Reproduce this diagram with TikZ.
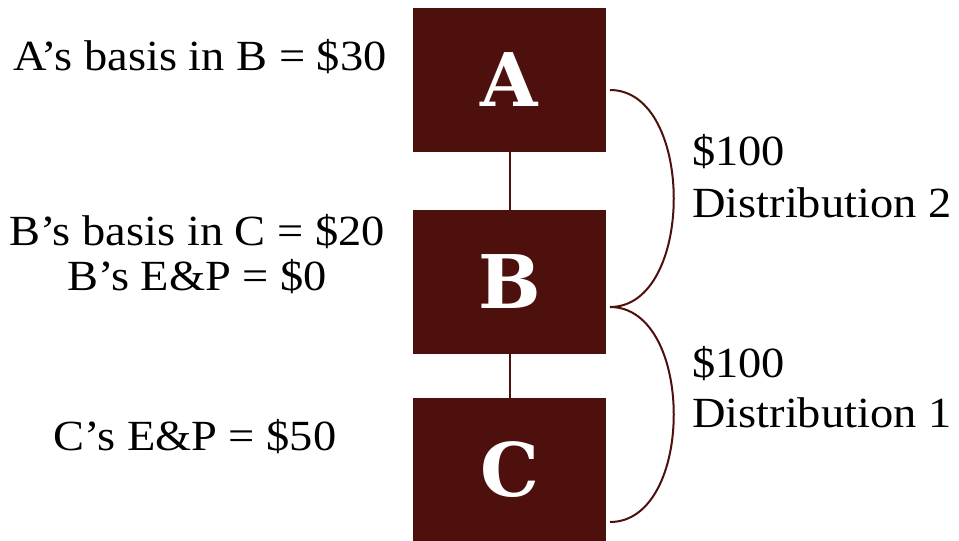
\documentclass[tikz,border=0pt]{standalone}
\usepackage{fontspec}
\setmainfont{Liberation Serif}[FakeStretch=1.08]
\newfontfamily\boxfont{DejaVu Serif Bold}
\definecolor{maroon}{HTML}{4D100D}
\begin{document}
\begin{tikzpicture}[x=1pt,y=-1pt,
  entity/.style={fill=maroon, draw=none, minimum width=193pt, minimum height=144pt,
    inner sep=0pt, text=white, font=\boxfont\fontsize{74}{76}\selectfont},
  lbl/.style={anchor=base, inner sep=0pt, font=\fontsize{43}{46}\selectfont},
  rlbl/.style={anchor=base west, inner sep=0pt, font=\fontsize{43}{46}\selectfont},
  link/.style={draw=maroon, line width=2pt}]
\useasboundingbox (0,0) rectangle (959,541);
\node[entity] (A) at (509.5,80) {A};
\node[entity] (B) at (509.5,282) {B};
\node[entity] (C) at (509.5,470) {C};
\draw[link] (A.south) -- (B.north);
\draw[link] (B.south) -- (C.north);
\coordinate (a1) at (610,90);
\coordinate (b1) at (610,307);
\coordinate (c1) at (610,522);
\draw[link] (a1) .. controls (695,90) and (695,307) .. (b1);
\draw[link] (b1) .. controls (695,307) and (695,522) .. (c1);
\node[lbl] (t1) at (200,70) {A’s basis in B = \$30};
\node[lbl] (t2) at (197,245) {B’s basis in C = \$20};
\node[lbl] (t3) at (197,290) {B’s E\&P = \$0};
\node[lbl] (t4) at (195,450) {C’s E\&P = \$50};
\node[rlbl] (d2a) at (692,165) {\$100};
\node[rlbl] (d2b) at (692,217) {Distribution 2};
\node[rlbl] (d1a) at (692,377) {\$100};
\node[rlbl] (d1b) at (692,427) {Distribution 1};
\end{tikzpicture}
\end{document}
